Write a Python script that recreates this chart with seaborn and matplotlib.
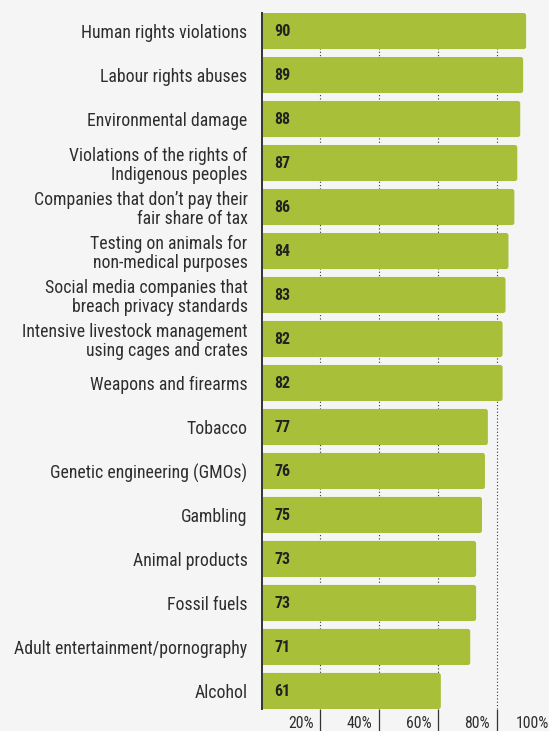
import matplotlib
matplotlib.use("Agg")
import matplotlib.pyplot as plt
import matplotlib.transforms as mtransforms
from matplotlib.patches import FancyBboxPatch
import seaborn as sns
import pandas as pd

categories = [
    "Human rights violations",
    "Labour rights abuses",
    "Environmental damage",
    "Violations of the rights of\nIndigenous peoples",
    "Companies that don\u2019t pay their\nfair share of tax",
    "Testing on animals for\nnon-medical purposes",
    "Social media companies that\nbreach privacy standards",
    "Intensive livestock management\nusing cages and crates",
    "Weapons and firearms",
    "Tobacco",
    "Genetic engineering (GMOs)",
    "Gambling",
    "Animal products",
    "Fossil fuels",
    "Adult entertainment/pornography",
    "Alcohol",
]
values = [90, 89, 88, 87, 86, 84, 83, 82, 82, 77, 76, 75, 73, 73, 71, 61]
tick_values = [20, 40, 60, 80, 100]
tick_labels = ["20%", "40%", "60%", "80%", "100%"]

BG = "#f5f5f5"
GREEN = "#a8bf3a"
DARK = "#222222"
LABEL = "#2e2e2e"

sns.set_theme(style="white")
plt.rcParams["font.family"] = ["Roboto Condensed", "DejaVu Sans"]

W, H = 549, 731
fig = plt.figure(figsize=(W / 100, H / 100), dpi=100, facecolor=BG)
x0, x1 = 261.5, 261.5 + 294.0
y_top, y_bot = 13, 709
ax = fig.add_axes([x0 / W, 1 - y_bot / H, (x1 - x0) / W, (y_bot - y_top) / H])
ax.set_facecolor(BG)

df = pd.DataFrame({"category": categories, "value": values})
sns.barplot(data=df, x="value", y="category", orient="h", color=GREEN,
            width=0.82, saturation=1, ax=ax, zorder=3)

# rounded right corners
px_x = (x1 - x0) / 100.0
px_y = (y_bot - y_top) / (len(values) - 1 + 0.82)
r = 2.5 / px_x
for p in list(ax.patches):
    x, y, w, h = p.get_x(), p.get_y(), p.get_width(), p.get_height()
    fb = FancyBboxPatch((x - 2, y), w + 2, h,
                        boxstyle=f"round,pad=0,rounding_size={r}",
                        mutation_aspect=(2.5 / px_y) / r,
                        facecolor=GREEN, edgecolor="none", zorder=3)
    p.remove()
    ax.add_patch(fb)

ax.set_xlim(0, 100)
ax.set_ylim(len(values) - 1 + 0.41, -0.41)
ax.set_xlabel("")
ax.set_ylabel("")

for s in ["top", "right", "bottom"]:
    ax.spines[s].set_visible(False)
ax.spines["left"].set_color("#333333")
ax.spines["left"].set_linewidth(1.4)
ax.spines["left"].set_zorder(5)

ax.set_xticks(tick_values)
ax.set_xticklabels([])
ax.tick_params(axis="x", direction="out", length=16, width=0.9, color="#333333", bottom=True)
for xv in tick_values:
    ax.axvline(xv, color="#333333", lw=0.8, ls=(0, (1, 2)), zorder=1)

trans = mtransforms.blended_transform_factory(ax.transData, fig.transFigure)
for xv, lab in zip(tick_values, tick_labels):
    ax.text(xv - 2.3, 1 - 724 / H, lab, transform=trans, ha="right", va="center",
            fontsize=11.3, color=LABEL, clip_on=False)

ax.tick_params(axis="y", length=0, pad=10, labelsize=12.8, labelcolor=LABEL)
for t in ax.get_yticklabels():
    t.set_horizontalalignment("right")
    t.set_multialignment("right")
    t.set_linespacing(1.04)

for i, v in enumerate(values):
    ax.text(4.4, i + 0.02, f"{v}", ha="left", va="center", fontsize=11.5,
            fontweight="bold", color=DARK, zorder=6)

fig.savefig("out.png", dpi=100, facecolor=BG)
